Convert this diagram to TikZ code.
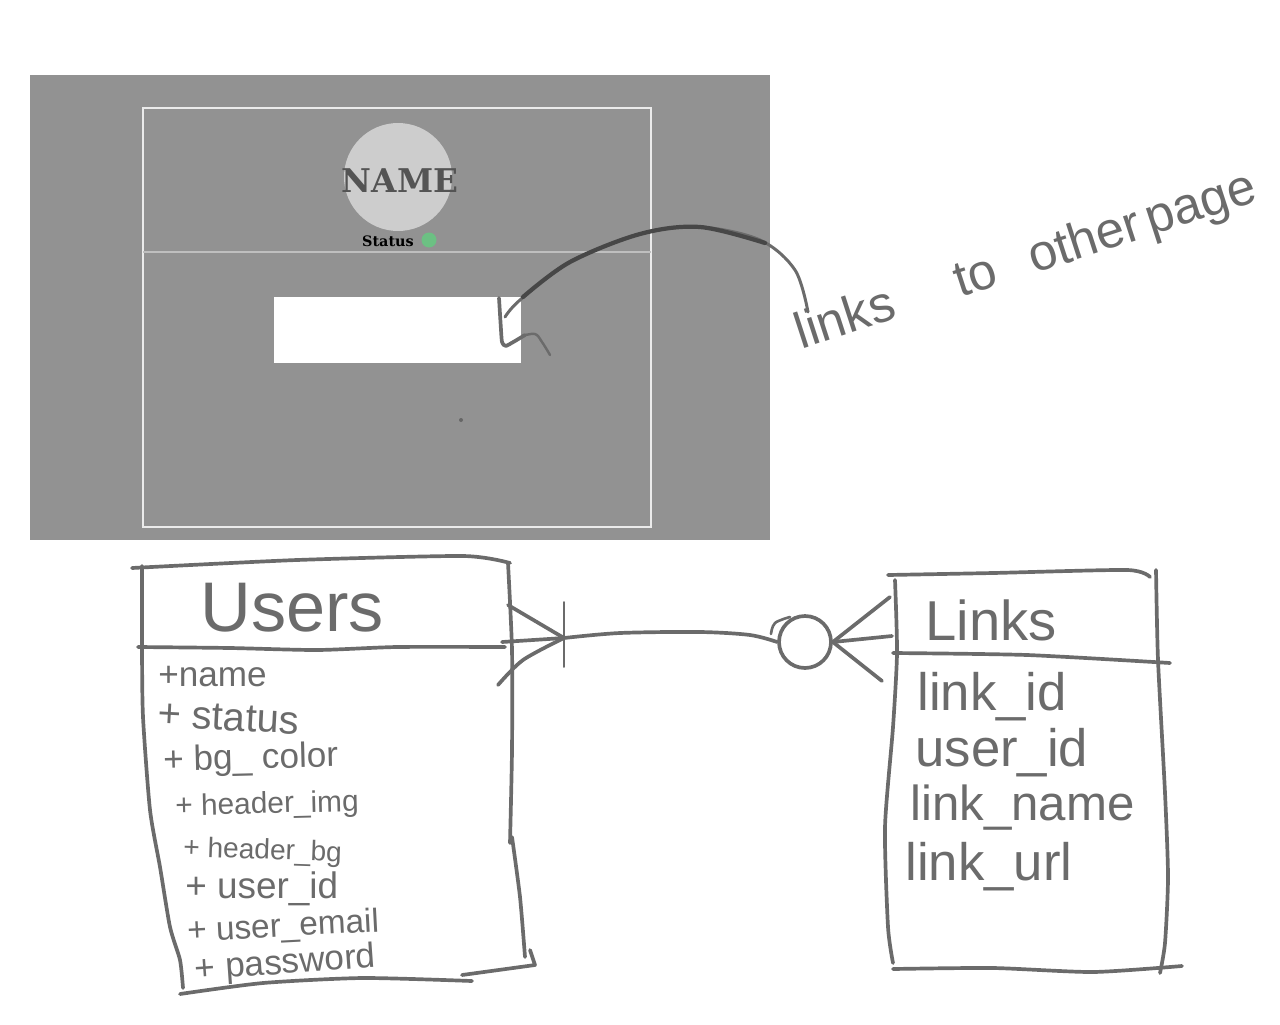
\documentclass[tikz,border=0pt]{standalone}
\usepackage{fontspec}
\setmainfont{Liberation Sans}
\newfontfamily\pagefont{DejaVu Serif}
\definecolor{pagegray}{HTML}{929292}
\definecolor{pencil}{HTML}{6B6B6B}
\definecolor{avatar}{HTML}{CDCDCD}
\definecolor{statusgreen}{HTML}{6CC083}
\tikzset{
  sketch/.style={draw=pencil,line width=2.1pt,line cap=round,line join=round},
  thinsketch/.style={draw=pencil,line width=1.1pt,line cap=round},
  hand/.style={text=pencil,inner sep=0pt,anchor=west},
}
\newcommand{\fs}[1]{\fontsize{#1}{#1}\selectfont}
\begin{document}
\begin{tikzpicture}[x=0.02cm,y=-0.02cm]
  \useasboundingbox (0,0) rectangle (1280,1024);

  % pagina de perfil
  \fill[pagegray] (30,75) rectangle (770,540);
  \draw[draw=white!92!black,line width=1.1pt] (143,108) rectangle (651,527);
  \draw[draw=white!75!black,line width=0.8pt] (143,252) -- (651,252);
  \fill[avatar] (398,177) circle (54);
  \node[inner sep=0pt,text=black!67] (pagename) at (400,181) {\pagefont\bfseries\fs{18.6}NAME};
  \node[inner sep=0pt,text=black] (pagestatus) at (388,241) {\pagefont\bfseries\fs{8.2}Status};
  \fill[statusgreen] (429,240) circle (7.5);
  \fill[white] (274,297) rectangle (521,363);
  \fill[black!60] (461,420) circle (2);

  % seta ate o botao
  \draw[sketch,line width=1.7pt] plot[smooth,tension=.55] coordinates {(505,317) (520,300) (570,262) (640,234) (700,227) (760,240) (795,270) (808,312)};
  \draw[sketch,line width=2.4pt,draw=black!72] plot[smooth,tension=.55] coordinates {(523,297) (570,262) (640,234) (700,227) (765,243)};
  \draw[sketch] plot[smooth,tension=.3] coordinates {(499,298) (501,330) (502,342) (506,346) (525,335)};
  \draw[sketch,line width=1.4pt] plot[smooth,tension=.6] coordinates {(522,336) (535,334) (542,342) (550,355)};

  % legenda
  \node[hand,rotate=18] (linknote) at (797,337) {\fs{29}links\hspace{29pt} to\hspace{12pt} other\hspace{-4pt} page};

  % tabela users
  \draw[sketch] plot[smooth,tension=.4] coordinates {(132,568) (297,560) (463,556) (510,563)};
  \draw[sketch] plot[smooth,tension=.4] coordinates {(142,566) (142,647) (143,717) (150,810) (160,867) (170,927) (180,960) (183,988)};
  \draw[sketch] plot[smooth,tension=.4] coordinates {(138,647) (230,648) (317,650) (397,647) (505,647)};
  \draw[sketch] plot[smooth,tension=.4] coordinates {(508,563) (512,650) (512,750) (510,843)};
  \draw[sketch] plot[smooth,tension=.4] coordinates {(512,837) (520,897) (525,957)};
  \draw[sketch] (530,950) -- (535,965) -- (462,975);
  \draw[sketch] plot[smooth,tension=.4] coordinates {(180,994) (263,983) (363,978) (472,981)};

  \node[hand] (usershead) at (200,608) {\fs{40}Users};
  \node[hand] (username) at (158,677) {\fs{20}+name};
  \node[hand,rotate=-3] (userstatus) at (158,714) {\fs{22.7}+ status};
  \node[hand,rotate=1.5] (userbg) at (163,762) {\fs{20}+ bg\_ color};
  \node[hand,rotate=1.5] (userimg) at (175,808) {\fs{17}+ header\_img};
  \node[hand,rotate=-2] (userbgimg) at (183,849) {\fs{16}+ header\_bg};
  \node[hand] (userid) at (185,889) {\fs{21}+ user\_id};
  \node[hand,rotate=3] (useremail) at (187,933) {\fs{19}+ user\_email};
  \node[hand,rotate=4] (userpass) at (195,971) {\fs{20}+ password};

  % pe de galinha (users)
  \coordinate (usersjoin) at (564,638);
  \draw[sketch] (508,605) -- (usersjoin);
  \draw[sketch] (502,642) -- (usersjoin);
  \draw[sketch] plot[smooth,tension=.5] coordinates {(498,685) (523,660) (usersjoin)};
  \draw[thinsketch] (564,602) -- (564,667);

  % ligacao entre as tabelas
  \node[circle,sketch,minimum size=1.04cm,inner sep=0pt] (linkcirc) at (805,642) {};
  \draw[sketch] plot[smooth,tension=.5] coordinates {(usersjoin) (620,633) (700,632) (750,635) (linkcirc.west)};
  \draw[sketch,line width=1.5pt] plot[smooth,tension=.6] coordinates {(771,634) (775,623) (790,617)};
  \draw[sketch] (linkcirc.east) -- (890,597);
  \draw[sketch] (linkcirc.east) -- (892,636);
  \draw[sketch] (linkcirc.east) -- (882,681);

  % tabela links
  \draw[sketch] plot[smooth,tension=.4] coordinates {(888,575) (993,573) (1127,570) (1150,577)};
  \draw[sketch] plot[smooth,tension=.4] coordinates {(895,580) (897,653) (893,727) (885,827) (888,927) (893,963)};
  \draw[sketch] plot[smooth,tension=.4] coordinates {(1156,570) (1158,660) (1165,793) (1168,877) (1165,943) (1160,973)};
  \draw[sketch] plot[smooth,tension=.4] coordinates {(893,653) (1027,655) (1170,663)};
  \draw[sketch] plot[smooth,tension=.4] coordinates {(893,969) (993,968) (1093,972) (1182,966)};

  \node[hand] (linkshead) at (925,620) {\fs{32}Links};
  \node[hand] (linkid) at (917,697) {\fs{30}link\_id};
  \node[hand] (linkuser) at (915,753) {\fs{30}user\_id};
  \node[hand] (linkname) at (910,808) {\fs{28}link\_name};
  \node[hand] (linkurl) at (905,867) {\fs{30}link\_url};
\end{tikzpicture}
\end{document}
